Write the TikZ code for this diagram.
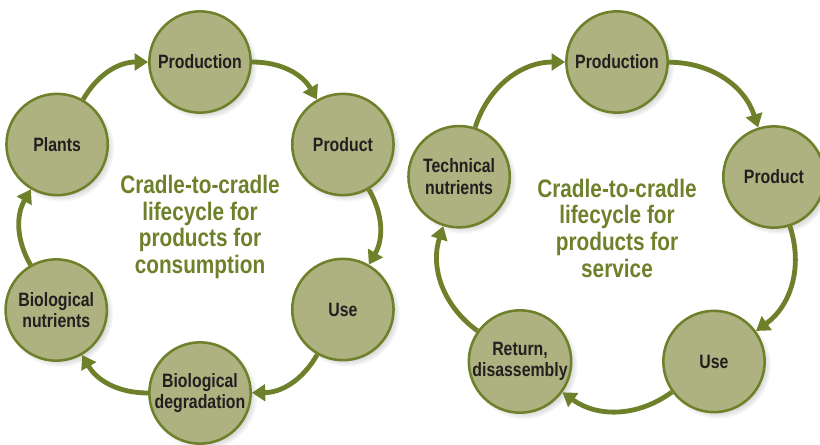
\documentclass[tikz,border=0pt]{standalone}
\usepackage{fontspec}
\newfontfamily\cyclefont{Liberation Sans}[FakeStretch=0.82]
\usepackage{tikz}
\usetikzlibrary{arrows.meta,calc,shadows}
\definecolor{leaf}{RGB}{111,128,42}
\definecolor{stagefill}{RGB}{174,178,128}
\definecolor{ink}{RGB}{35,31,32}

\begin{document}
\begin{tikzpicture}[
    x=0.75pt, y=0.75pt,
    stage/.style={circle, draw=leaf, line width=1.9pt, fill=stagefill, minimum size=76pt, inner sep=0pt, align=center, text=ink,
        font=\cyclefont\bfseries\fontsize{14.5}{16}\selectfont,
        circular drop shadow={shadow scale=1.06, shadow xshift=2.5pt, shadow yshift=-2.5pt, opacity=0.35}},
    title/.style={align=center, text=leaf, font=\cyclefont\bfseries\fontsize{19}{20}\selectfont},
    flow/.style={-{Triangle[length=10pt,width=12.5pt]}, line width=3.6pt, draw=leaf}
]
    \useasboundingbox (0,0) rectangle (820,444);

    % Centres of the two cycles
    \coordinate (lc) at (200,217);
    \coordinate (rc) at (617,216);

    % Consumption cycle: six stages
    \node[stage] (lprod) at ($(lc)+(90:165)$) {Production};
    \node[stage] (lproduct) at ($(lc)+(30:165)$) {Product};
    \node[stage] (luse) at ($(lc)+(-30:165)$) {Use};
    \node[stage] (degrade) at ($(lc)+(-90:166)$) {Biological\\degradation};
    \node[stage] (bionut) at ($(lc)+(-150:166)$) {Biological\\nutrients};
    \node[stage] (plants) at ($(lc)+(150:165)$) {Plants};
    \node[title] (ltitle) at (lc) {Cradle-to-cradle\\lifecycle for\\products for\\consumption};

    % Service cycle: five stages
    \node[stage] (rprod) at ($(rc)+(90:166)$) {Production};
    \node[stage] (rproduct) at ($(rc)+(18:165)$) {Product};
    \node[stage] (ruse) at ($(rc)+(-54:165)$) {Use};
    \node[stage] (ret) at ($(rc)+(-126:165)$) {Return,\\disassembly};
    \node[stage] (technut) at ($(rc)+(162:166)$) {Technical\\nutrients};
    \node[title] (rtitle) at (rc) {Cradle-to-cradle\\lifecycle for\\products for\\service};

    % Arrows
    \draw[flow] (lprod) to[bend left=30] (lproduct);
    \draw[flow] (lproduct) to[bend left=30] (luse);
    \draw[flow] (luse) to[bend left=30] (degrade);
    \draw[flow] (degrade) to[bend left=30] (bionut);
    \draw[flow] (bionut) to[bend left=30] (plants);
    \draw[flow] (plants) to[bend left=30] (lprod);

    \draw[flow] (rprod) to[bend left=36] (rproduct);
    \draw[flow] (rproduct) to[bend left=36] (ruse);
    \draw[flow] (ruse) to[bend left=36] (ret);
    \draw[flow] (ret) to[bend left=36] (technut);
    \draw[flow] (technut) to[bend left=36] (rprod);
\end{tikzpicture}
\end{document}
